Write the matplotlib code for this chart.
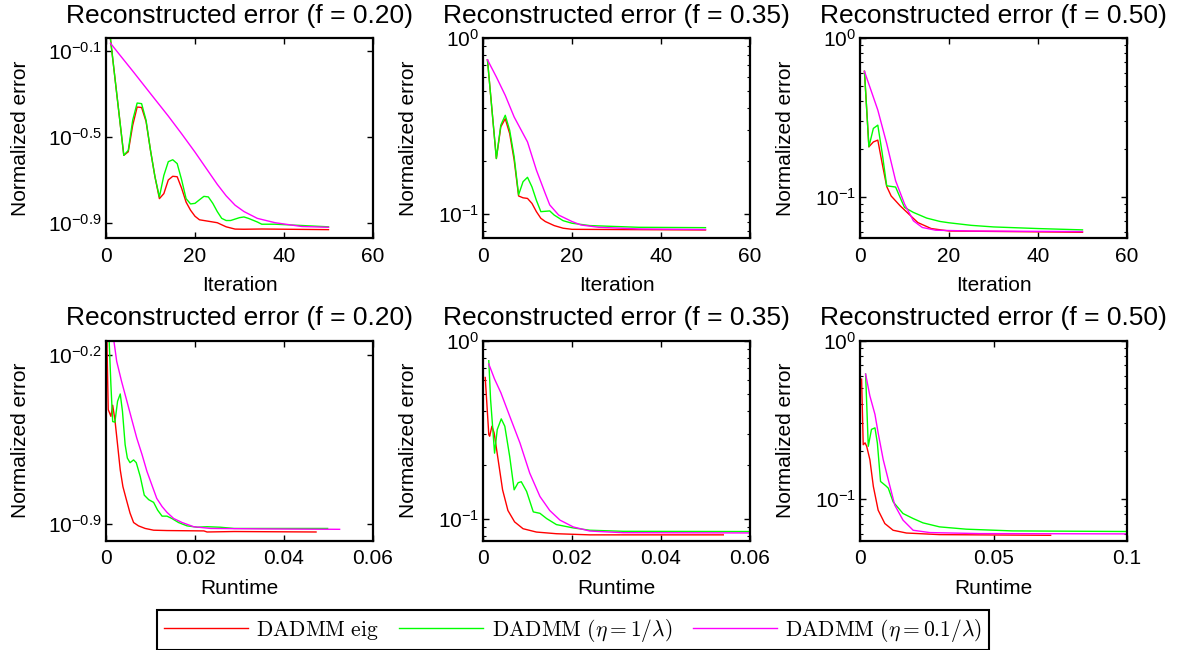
import matplotlib
matplotlib.use('Agg')
import matplotlib.pyplot as plt
from matplotlib.ticker import NullLocator, LogLocator, FixedLocator

plt.rcParams['font.family'] = ['Liberation Sans', 'DejaVu Sans']

########################### Data ####################################################
labels = [r'$\mathrm{DADMM\ eig}$',
          r'$\mathrm{DADMM}\ (\eta = 1/\lambda)$',
          r'$\mathrm{DADMM}\ (\eta = 0.1/\lambda)$']
colors = ['#ff0000', '#00ff00', '#ff00ff']
f_values = ['0.20', '0.35', '0.50']

# f = 0.20, error vs iteration
it20_red_x = [1, 4, 5, 6, 7, 8, 9, 10, 11, 12, 13, 14, 15, 16, 17, 18, 19, 20, 21, 23, 25, 27, 29, 31, 35, 50]
it20_red_y = [0.90, 0.259, 0.269, 0.357, 0.434, 0.432, 0.372, 0.273, 0.206, 0.163, 0.172, 0.199, 0.207,
              0.206, 0.182, 0.157, 0.144, 0.135, 0.130, 0.128, 0.126, 0.1206, 0.1177, 0.1175, 0.1178, 0.117]
it20_grn_x = [1, 4, 5, 6, 7, 8, 9, 10, 11, 12, 13, 14, 15, 16, 17, 18, 19, 20, 21, 22, 23, 24, 25, 26, 27,
              28, 30, 31, 32, 34, 35, 38, 50]
it20_grn_y = [0.90, 0.259, 0.273, 0.377, 0.453, 0.450, 0.377, 0.273, 0.206, 0.166, 0.209, 0.242, 0.247,
              0.237, 0.199, 0.163, 0.154, 0.155, 0.161, 0.167, 0.166, 0.155, 0.142, 0.132, 0.129, 0.129,
              0.133, 0.134, 0.132, 0.127, 0.124, 0.124, 0.1206]
it20_mag_x = [1, 3, 6, 10, 14, 17, 20, 23, 25, 27, 29, 31, 34, 38, 44, 50]
it20_mag_y = [0.859, 0.762, 0.638, 0.501, 0.394, 0.326, 0.268, 0.218, 0.190, 0.168, 0.152, 0.142,
              0.132, 0.126, 0.121, 0.120]

# f = 0.35, error vs iteration
it35_red_x = [1, 3, 4, 5, 6, 7, 8, 9, 10, 11, 12, 13, 14, 16, 18, 20, 50]
it35_red_y = [0.751, 0.207, 0.313, 0.348, 0.286, 0.203, 0.127, 0.124, 0.123, 0.1153, 0.1035, 0.0949,
              0.091, 0.0863, 0.0834, 0.0822, 0.0815]
it35_grn_x = [1, 3, 4, 5, 6, 7, 8, 9, 10, 11, 12, 13, 15, 16, 18, 20, 24, 35, 50]
it35_grn_y = [0.751, 0.207, 0.320, 0.364, 0.299, 0.212, 0.129, 0.153, 0.162, 0.143, 0.120, 0.1035,
              0.1045, 0.099, 0.092, 0.089, 0.0863, 0.0844, 0.084]
it35_mag_x = [1, 3, 5, 7, 10, 12, 14, 15, 17, 20, 22, 26, 35, 50]
it35_mag_y = [0.751, 0.600, 0.472, 0.356, 0.257, 0.178, 0.131, 0.113, 0.099, 0.091, 0.087, 0.0844,
              0.0826, 0.082]

# f = 0.50, error vs iteration
it50_red_x = [1, 2, 3, 4, 5, 6, 7, 9, 11, 13, 16, 20, 50]
it50_red_y = [0.615, 0.206, 0.221, 0.227, 0.161, 0.116, 0.101, 0.0877, 0.0776, 0.0687, 0.063, 0.0608, 0.0597]
it50_grn_x = [1, 2, 3, 4, 5, 6, 8, 9, 10, 12, 15, 18, 20, 25, 30, 40, 50]
it50_grn_y = [0.615, 0.206, 0.269, 0.282, 0.187, 0.117, 0.115, 0.099, 0.0856, 0.0796, 0.0733, 0.0698,
              0.0685, 0.066, 0.0645, 0.063, 0.0618]
it50_mag_x = [1, 4, 6, 8, 10, 12, 14, 17, 25, 50]
it50_mag_y = [0.615, 0.351, 0.216, 0.126, 0.090, 0.0705, 0.064, 0.0615, 0.0608, 0.0603]

# f = 0.20, error vs runtime
rt20_red_x = [0.0001, 0.0005, 0.0011, 0.0015, 0.002, 0.0026, 0.0032, 0.0038, 0.0045, 0.0054, 0.0062,
              0.0073, 0.0088, 0.0107, 0.0137, 0.022, 0.0227, 0.0288, 0.0472]
rt20_red_y = [0.90, 0.374, 0.351, 0.390, 0.340, 0.268, 0.211, 0.180, 0.161, 0.140, 0.128, 0.124, 0.121,
              0.119, 0.1186, 0.1182, 0.117, 0.1175, 0.117]
rt20_grn_x = [0.0005, 0.0011, 0.0015, 0.002, 0.0026, 0.0032, 0.0037, 0.0043, 0.0048, 0.0054, 0.0062,
              0.0068, 0.0077, 0.0086, 0.0096, 0.0107, 0.0116, 0.0126, 0.0137, 0.0148, 0.0163, 0.0182,
              0.0205, 0.0227, 0.0257, 0.0288, 0.0498]
rt20_grn_y = [0.90, 0.474, 0.334, 0.332, 0.405, 0.434, 0.368, 0.268, 0.236, 0.226, 0.232, 0.226, 0.198,
              0.166, 0.159, 0.155, 0.144, 0.136, 0.136, 0.133, 0.128, 0.124, 0.1224, 0.123, 0.1224,
              0.121, 0.121]
rt20_mag_x = [0.0012, 0.0024, 0.0035, 0.0047, 0.0058, 0.0069, 0.0081, 0.0092, 0.0103, 0.0114, 0.0126,
              0.0137, 0.0152, 0.0171, 0.0197, 0.0235, 0.0348, 0.0525]
rt20_mag_y = [0.859, 0.592, 0.489, 0.405, 0.340, 0.286, 0.244, 0.208, 0.183, 0.161, 0.149, 0.141, 0.133,
              0.128, 0.123, 0.121, 0.1205, 0.120]

# f = 0.35, error vs runtime
rt35_red_x = [0.0005, 0.0013, 0.0015, 0.002, 0.0025, 0.0034, 0.0044, 0.0056, 0.0071, 0.009, 0.012,
              0.0165, 0.024, 0.054]
rt35_red_y = [0.62, 0.296, 0.29, 0.33, 0.303, 0.214, 0.145, 0.111, 0.0958, 0.0877, 0.084, 0.0822,
              0.081, 0.081]
rt35_grn_x = [0.0013, 0.0017, 0.0026, 0.0032, 0.0041, 0.0049, 0.006, 0.007, 0.0079, 0.0086, 0.0098,
              0.0113, 0.0128, 0.0143, 0.0165, 0.0203, 0.024, 0.0315, 0.065]
rt35_grn_y = [0.77, 0.468, 0.233, 0.316, 0.363, 0.33, 0.223, 0.145, 0.159, 0.161, 0.142, 0.109, 0.107,
              0.1, 0.0925, 0.0886, 0.086, 0.0848, 0.0845]
rt35_mag_x = [0.0013, 0.0026, 0.004, 0.006, 0.0083, 0.0105, 0.0128, 0.015, 0.0173, 0.0203, 0.024,
              0.0315, 0.065]
rt35_mag_y = [0.738, 0.607, 0.51, 0.376, 0.266, 0.18, 0.133, 0.111, 0.098, 0.0897, 0.0851, 0.0833, 0.083]

# f = 0.50, error vs runtime
rt50_red_x = [0.0006, 0.0012, 0.0019, 0.0025, 0.0037, 0.005, 0.0068, 0.0093, 0.0124, 0.0174, 0.0298, 0.0714]
rt50_red_y = [0.571, 0.22, 0.226, 0.215, 0.177, 0.12, 0.085, 0.07, 0.0635, 0.061, 0.0596, 0.059]
rt50_grn_x = [0.0021, 0.0031, 0.0043, 0.0056, 0.0065, 0.0077, 0.0097, 0.0106, 0.0124, 0.0161, 0.0199,
              0.0236, 0.0298, 0.0398, 0.0571, 0.105]
rt50_grn_y = [0.614, 0.215, 0.275, 0.281, 0.226, 0.129, 0.121, 0.117, 0.096, 0.081, 0.0753, 0.0707,
              0.0667, 0.0645, 0.0629, 0.0623]
rt50_mag_x = [0.0021, 0.0037, 0.0056, 0.0068, 0.0087, 0.0106, 0.013, 0.0161, 0.0199, 0.0261, 0.0447, 0.105]
rt50_mag_y = [0.614, 0.447, 0.342, 0.261, 0.177, 0.132, 0.0916, 0.0736, 0.0635, 0.0614, 0.0605, 0.0602]

# axis settings per panel (log10 exponents for y)
it_xticks = [0, 20, 40, 60]
it_xticklabels = ['0', '20', '40', '60']
rt_xticks_short = [0, 0.02, 0.04, 0.06]
rt_xticklabels_short = ['0', '0.02', '0.04', '0.06']
rt_xticks_long = [0, 0.05, 0.1]
rt_xticklabels_long = ['0', '0.05', '0.1']

ylim_exp = [(-0.972, -0.041), (-1.136, 0), (-1.262, 0),
            (-0.969, -0.142), (-1.126, 0), (-1.265, 0)]
ytick_exp = [['-0.9', '-0.5', '-0.1'], ['-1', '0'], ['-1', '0'],
             ['-0.9', '-0.2'], ['-1', '0'], ['-1', '0']]

########################### Plot ##############################
fig = plt.figure(figsize=(11.9, 6.5), dpi=100)

panels = [
    ([(it20_red_x, it20_red_y), (it20_grn_x, it20_grn_y), (it20_mag_x, it20_mag_y)],
     (0, 60), it_xticks, it_xticklabels, 'Iteration'),
    ([(it35_red_x, it35_red_y), (it35_grn_x, it35_grn_y), (it35_mag_x, it35_mag_y)],
     (0, 60), it_xticks, it_xticklabels, 'Iteration'),
    ([(it50_red_x, it50_red_y), (it50_grn_x, it50_grn_y), (it50_mag_x, it50_mag_y)],
     (0, 60), it_xticks, it_xticklabels, 'Iteration'),
    ([(rt20_red_x, rt20_red_y), (rt20_grn_x, rt20_grn_y), (rt20_mag_x, rt20_mag_y)],
     (0, 0.06), rt_xticks_short, rt_xticklabels_short, 'Runtime'),
    ([(rt35_red_x, rt35_red_y), (rt35_grn_x, rt35_grn_y), (rt35_mag_x, rt35_mag_y)],
     (0, 0.06), rt_xticks_short, rt_xticklabels_short, 'Runtime'),
    ([(rt50_red_x, rt50_red_y), (rt50_grn_x, rt50_grn_y), (rt50_mag_x, rt50_mag_y)],
     (0, 0.1), rt_xticks_long, rt_xticklabels_long, 'Runtime'),
]

col_x = [106 / 1190, 483 / 1190, 860 / 1190]
row_y = [1 - 238.3 / 650, 1 - 541 / 650]
ax_w = 267 / 1190
ax_h = 200.5 / 650
ylabel_x = [-0.285, -0.245, -0.245]

for i, (series, xlim, xticks, xticklabels, xlabel) in enumerate(panels):
    row, col = divmod(i, 3)
    ax = fig.add_axes([col_x[col], row_y[row], ax_w, ax_h])
    for (x, y), c, lab in zip(series, colors, labels):
        ax.plot(x, y, color=c, lw=1.0, label=lab)
    ax.set_yscale('log')
    ax.set_xlim(*xlim)
    ax.set_ylim(10 ** ylim_exp[i][0], 10 ** ylim_exp[i][1])
    ax.set_xticks(xticks)
    ax.set_xticklabels(xticklabels)
    ax.yaxis.set_major_locator(FixedLocator([10 ** float(e) for e in ytick_exp[i]]))
    ax.set_yticklabels([r'$\mathregular{10^{%s}}$' % e for e in ytick_exp[i]])
    if ytick_exp[i][0] == '-1':
        ax.yaxis.set_minor_locator(LogLocator(base=10, subs=range(2, 10)))
    else:
        ax.yaxis.set_minor_locator(NullLocator())
    ax.yaxis.set_minor_formatter(plt.NullFormatter())
    ax.tick_params(which='both', direction='in', top=True, right=True, labelsize=15)
    ax.tick_params(which='major', length=4, width=1.0)
    ax.tick_params(which='minor', length=2, width=0.8)
    ax.tick_params(axis='x', pad=6)
    ax.tick_params(axis='y', pad=3)
    for s in ax.spines.values():
        s.set_linewidth(1.6)
    ax.set_title('Reconstructed error (f = %s)' % f_values[col], fontsize=19, pad=11)
    ax.set_xlabel(xlabel, fontsize=15)
    ax.xaxis.set_label_coords(0.5, -0.19)
    ax.set_ylabel('Normalized error', fontsize=15)
    ax.yaxis.set_label_coords(ylabel_x[col], 0.5)
    if i == 0:
        handles, leg_labels = ax.get_legend_handles_labels()

leg = fig.legend(handles, leg_labels, loc='center', bbox_to_anchor=(573 / 1190, 1 - 630 / 650),
                 ncol=3, fontsize=15.5, fancybox=False, edgecolor='black', framealpha=1,
                 handlelength=3.9, handletextpad=0.4, columnspacing=0.95, borderpad=0.3)
leg.get_frame().set_linewidth(1.5)
for t in leg.get_texts():
    t.set_math_fontfamily('cm')

fig.savefig('out.png', dpi=100)
